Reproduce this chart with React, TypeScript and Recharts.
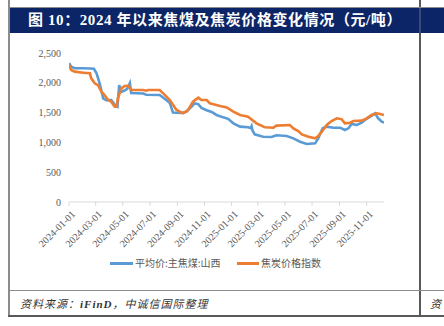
import React from "react";
import { LineChart, Line, XAxis, YAxis } from "recharts";

const blueName = "平均价:主焦煤:山西";
const orangeName = "焦炭价格指数";

const blueDates = [
  "2024-01-01","2024-01-06","2024-01-14","2024-02-02","2024-02-17","2024-02-26","2024-03-03","2024-03-10",
  "2024-03-18","2024-03-25","2024-04-05","2024-04-13","2024-04-19","2024-04-23","2024-04-28","2024-05-05",
  "2024-05-11","2024-05-17","2024-05-20","2024-06-16","2024-06-23","2024-07-23","2024-08-07","2024-08-15",
  "2024-08-22","2024-09-10","2024-09-21","2024-10-03","2024-10-10","2024-10-18","2024-10-25","2024-11-06",
  "2024-11-17","2024-11-28","2024-12-13","2024-12-24","2025-01-05","2025-01-20","2025-02-07","2025-02-13",
  "2025-02-15","2025-02-17","2025-02-22","2025-03-13","2025-04-01","2025-04-12","2025-05-05","2025-05-20",
  "2025-06-04","2025-06-19","2025-07-08","2025-07-15","2025-07-25","2025-08-03","2025-08-18","2025-09-02",
  "2025-09-13","2025-09-21","2025-09-28","2025-10-10","2025-10-21","2025-10-28","2025-11-09","2025-11-20",
  "2025-11-27","2025-12-05","2025-12-10",
];
const blueValues = [
  2330, 2270, 2245, 2243, 2240, 2235, 2160, 1990,
  1740, 1710, 1710, 1630, 1600, 1960, 1850, 1870,
  1900, 1995, 1830, 1820, 1800, 1795, 1710, 1660,
  1500, 1495, 1515, 1600, 1655, 1640, 1580, 1540,
  1510, 1460, 1420, 1395, 1320, 1264, 1253, 1240,
  1272, 1200, 1135, 1096, 1090, 1120, 1107, 1068,
  1012, 973, 984, 1068, 1236, 1264, 1247, 1247,
  1208, 1236, 1309, 1292, 1331, 1376, 1432, 1488,
  1404, 1348, 1331,
];

const orangeDates = [
  "2024-01-01","2024-01-06","2024-01-14","2024-02-02","2024-02-17","2024-02-20","2024-02-28","2024-03-06",
  "2024-03-10","2024-03-14","2024-03-21","2024-03-29","2024-04-05","2024-04-13","2024-04-17","2024-04-20",
  "2024-04-28","2024-05-05","2024-05-14","2024-05-20","2024-06-16","2024-06-23","2024-06-27","2024-07-23",
  "2024-07-31","2024-08-15","2024-08-30","2024-09-14","2024-09-25","2024-10-06","2024-10-18","2024-10-25",
  "2024-11-06","2024-11-13","2024-12-06","2024-12-21","2025-01-05","2025-01-20","2025-02-07","2025-02-26",
  "2025-03-06","2025-03-17","2025-04-05","2025-04-12","2025-05-12","2025-05-20","2025-05-31","2025-06-08",
  "2025-06-23","2025-07-08","2025-07-15","2025-07-23","2025-08-03","2025-08-14","2025-08-26","2025-09-06",
  "2025-09-13","2025-09-25","2025-10-02","2025-10-21","2025-11-01","2025-11-12","2025-11-24","2025-12-01",
  "2025-12-10",
];
const orangeValues = [
  2299, 2215, 2187, 2170, 2159, 2075, 1991, 1963,
  1907, 1851, 1795, 1711, 1683, 1600, 1600, 1740,
  1907, 1946, 1950, 1879, 1879, 1868, 1879, 1879,
  1823, 1711, 1544, 1488, 1544, 1683, 1751, 1711,
  1711, 1655, 1611, 1588, 1515, 1460, 1432, 1320,
  1292, 1253, 1247, 1281, 1292, 1236, 1191, 1135,
  1096, 1068, 1107, 1180, 1292, 1359, 1404, 1387,
  1320, 1331, 1359, 1365, 1404, 1460, 1488, 1477,
  1460,
];

const xTickLabels = [
  "2024-01-01","2024-03-01","2024-05-01","2024-07-01","2024-09-01","2024-11-01",
  "2025-01-01","2025-03-01","2025-05-01","2025-07-01","2025-09-01","2025-11-01",
];
const yTicks = [0, 500, 1000, 1500, 2000, 2500];
const axisStart = "2024-01-01";
const axisEnd = "2025-12-10";

const dayOf = (s: string) =>
  Math.round((Date.parse(s + "T00:00:00Z") - Date.parse(axisStart + "T00:00:00Z")) / 86400000);

const blueData = blueDates.map((d, i) => ({ t: dayOf(d), v: blueValues[i] }));
const orangeData = orangeDates.map((d, i) => ({ t: dayOf(d), v: orangeValues[i] }));
const xTicks = xTickLabels.map(dayOf);
const labelByDay: Record<number, string> = {};
xTickLabels.forEach((l) => (labelByDay[dayOf(l)] = l));

const BLUE = "#5b9bd5";
const ORANGE = "#ed7d31";
const serif = '"Times New Roman", "Liberation Serif", "Noto Sans CJK SC", serif';
const sans = '"Noto Sans CJK SC", "Noto Sans", sans-serif';

const XTick = (props: any) => {
  const { x, y, payload } = props;
  return (
    <g transform={`translate(${x + 4},${y + 4})`}>
      <text
        x={0}
        y={0}
        dy={4}
        textAnchor="end"
        transform="rotate(-45)"
        fontFamily={serif}
        fontSize={10}
        fill="#595959"
      >
        {labelByDay[payload.value]}
      </text>
    </g>
  );
};

export default function App() {
  return (
    <div
      style={{
        position: "absolute",
        left: 0,
        top: 0,
        width: 444,
        height: 326,
        background: "#ffffff",
        overflow: "hidden",
      }}
    >
      {/* frame lines */}
      <div style={{ position: "absolute", left: 8, top: 0, width: 2, height: 317, background: "#8c8c8c" }} />
      <div style={{ position: "absolute", left: 419, top: 0, width: 2, height: 317, background: "#595959" }} />
      <div style={{ position: "absolute", left: 9, top: 7, width: 435, height: 1, background: "#8c8c8c" }} />
      <div style={{ position: "absolute", left: 9, top: 290, width: 435, height: 1, background: "#8c8c8c" }} />
      <div style={{ position: "absolute", left: 8, top: 315, width: 436, height: 2, background: "#595959" }} />
      {/* title bar */}
      <div
        style={{
          position: "absolute",
          left: 10,
          top: 8,
          width: 434,
          height: 25,
          background: "#0c2567",
        }}
      />
      <div style={{ position: "absolute", left: 419, top: 8, width: 2, height: 25, background: "#3a4a78" }} />
      <div
        style={{
          position: "absolute",
          left: 28,
          top: 8,
          height: 25,
          lineHeight: "25px",
          color: "#ffffff",
          fontFamily: serif,
          fontWeight: "bold",
          fontSize: 15,
          letterSpacing: 0.6,
          whiteSpace: "nowrap",
        }}
      >
        图 10：2024 年以来焦煤及焦炭价格变化情况（元/吨）
      </div>

      <div style={{ position: "absolute", left: 0, top: 0 }}>
        <LineChart
          width={444}
          height={326}
          margin={{ top: 53, right: 60, bottom: 64, left: 0 }}
        >
          <XAxis
            type="number"
            dataKey="t"
            domain={[0, dayOf(axisEnd)]}
            ticks={xTicks}
            interval={0}
            allowDataOverflow
            height={60}
            axisLine={{ stroke: "#d9d9d9" }}
            tickLine={{ stroke: "#d9d9d9" }}
            tickSize={4}
            tick={<XTick />}
          />
          <YAxis
            type="number"
            domain={[0, 2500]}
            ticks={yTicks}
            width={69}
            axisLine={false}
            tickLine={false}
            tickSize={0}
            tickMargin={8}
            tickFormatter={(v: number) => v.toLocaleString("en-US")}
            tick={{ fontFamily: serif, fontSize: 10, fill: "#595959" }}
          />
          <Line
            data={blueData}
            dataKey="v"
            name={blueName}
            type="linear"
            stroke={BLUE}
            strokeWidth={2.6}
            dot={false}
            isAnimationActive={false}
          />
          <Line
            data={orangeData}
            dataKey="v"
            name={orangeName}
            type="linear"
            stroke={ORANGE}
            strokeWidth={2.6}
            dot={false}
            isAnimationActive={false}
          />
        </LineChart>
      </div>

      {/* legend */}
      <div style={{ position: "absolute", left: 110, top: 262, width: 23, height: 3, background: BLUE }} />
      <div
        style={{
          position: "absolute",
          left: 135,
          top: 256,
          fontFamily: sans,
          fontSize: 10,
          lineHeight: "14px",
          color: "#595959",
          whiteSpace: "nowrap",
        }}
      >
        {blueName}
      </div>
      <div style={{ position: "absolute", left: 237, top: 262, width: 22, height: 3, background: ORANGE }} />
      <div
        style={{
          position: "absolute",
          left: 261,
          top: 256,
          fontFamily: sans,
          fontSize: 10,
          lineHeight: "14px",
          color: "#595959",
          whiteSpace: "nowrap",
        }}
      >
        {orangeName}
      </div>

      {/* source */}
      <div
        style={{
          position: "absolute",
          left: 20,
          top: 296,
          fontFamily: serif,
          fontStyle: "italic",
          fontSize: 11,
          lineHeight: "16px",
          letterSpacing: 1,
          color: "#333333",
          whiteSpace: "nowrap",
        }}
      >
        资料来源：<b>iFinD</b>，中诚信国际整理
      </div>
      <div
        style={{
          position: "absolute",
          left: 430,
          top: 296,
          fontFamily: serif,
          fontStyle: "italic",
          fontSize: 11,
          lineHeight: "16px",
          color: "#333333",
          whiteSpace: "nowrap",
        }}
      >
        资
      </div>
    </div>
  );
}
